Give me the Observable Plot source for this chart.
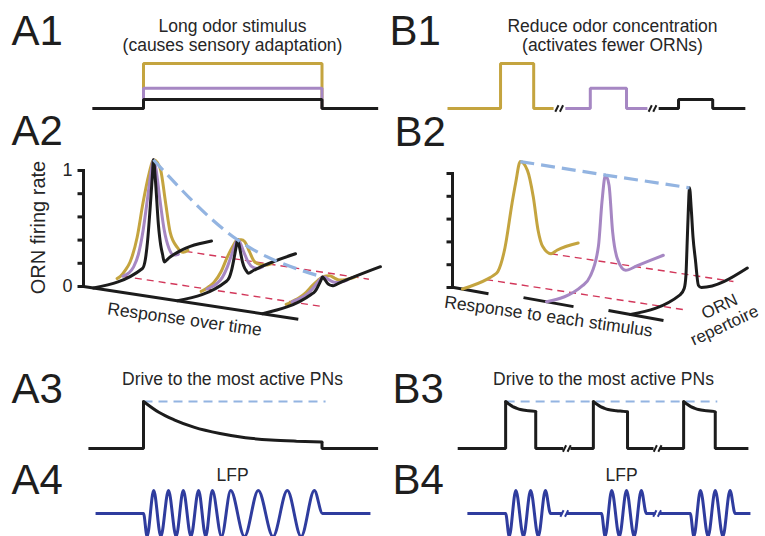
<!DOCTYPE html>
<html>
<head>
<meta charset="utf-8">
<script src="https://cdn.jsdelivr.net/npm/d3@7"></script>
<script src="https://cdn.jsdelivr.net/npm/@observablehq/plot@0.6"></script>
<style>
html,body{margin:0;padding:0;background:#fff;}
#chart svg{display:block;}
</style>
</head>
<body>
<div id="chart"></div>
<script>
// ================= DATA =================
const panelLabels = ["A1", "A2", "A3", "A4", "B1", "B2", "B3", "B4"];
const titleA1 = "Long odor stimulus\n(causes sensory adaptation)";
const titleB1 = "Reduce odor concentration\n(activates fewer ORNs)";
const titleDrive = "Drive to the most active PNs";
const titleLFP = "LFP";
const labelRate = "ORN firing rate";
const labelOverTime = "Response over time";
const labelEachStim = "Response to each stimulus";
const labelRepertoire = ["ORN", "repertoire"];
const rateTicks = [0, 0.2, 0.4, 0.6, 0.8, 1];
const rateTickLabels = [{v: 0, s: "0"}, {v: 1, s: "1"}];

// odor concentrations: high (gold), medium (purple), low (black)
const series = ["high", "medium", "low"];
const concentration = [1, 0.45, 0.2];

// A1: long stimulus (time units)
const aStart = 0, aOn = 1, aOff = 4.5, aEnd = 5.6;

// B1: short pulses, one per concentration
const b1SegStart = [0, 2.31, 4.14];
const b1SegEnd = [2.08, 3.92, 5.84];
const b1On = [1.04, 2.80, 4.53];
const b1Off = [1.69, 3.51, 5.20];
const b1Breaks = [2.19, 4.02];

// A2: ORN response snapshots (early, middle, late) — peak rate of each
const a2PeakRate = [0.9, 0.32, 0.11];
// normalized response shapes along the response axis (t) for each concentration
const a2GoldT = [0.2, 0.23, 0.27, 0.31, 0.37, 0.42, 0.47, 0.508, 0.54, 0.57, 0.61, 0.65, 0.71, 0.76, 0.8];
const a2GoldH = [0, 0.01, 0.05, 0.11, 0.32, 0.63, 0.88, 1, 0.96, 0.87, 0.55, 0.24, 0.07, 0, 0];
const a2PurpleT = [0.25, 0.3, 0.34, 0.38, 0.42, 0.46, 0.49, 0.508, 0.53, 0.56, 0.6, 0.64, 0.68, 0.72];
const a2PurpleH = [0, 0.01, 0.05, 0.15, 0.36, 0.67, 0.91, 1, 0.9, 0.62, 0.28, 0.09, 0.01, 0];
const a2BlackT = [0, 0.415, 0.44, 0.458, 0.48, 0.5, 0.508, 0.525, 0.55, 0.57, 0.585, 0.6, 0.64, 1];
const a2BlackH = [0, 0, 0.08, 0.24, 0.55, 0.87, 1, 0.79, 0.36, 0.15, 0.06, -0.02, 0, 0];

// B2: responses to each stimulus (absolute firing rate)
const b2GoldT = [0, 0.21, 0.26, 0.3, 0.36, 0.42, 0.45, 0.49, 0.55, 0.6, 0.64, 0.68, 0.75, 0.8, 0.98];
const b2GoldH = [0, 0, 0.01, 0.03, 0.21, 0.57, 0.73, 0.9, 0.8, 0.55, 0.25, 0.09, 0, 0.01, 0];
const b2PurpleT = [0, 0.305, 0.37, 0.44, 0.47, 0.5, 0.53, 0.56, 0.6, 0.67, 0.77, 0.99];
const b2PurpleH = [0, 0.015, 0.07, 0.3, 0.67, 0.89, 0.79, 0.38, 0.13, 0, 0, 0];
const b2BlackT = [0, 0.42, 0.455, 0.47, 0.48, 0.49, 0.5, 0.515, 0.53, 0.55, 0.575, 0.6, 0.99];
const b2BlackH = [0, 0, 0.04, 0.15, 0.42, 0.7, 0.89, 0.7, 0.45, 0.25, 0.02, -0.01, 0];

// A3: drive to most active PNs (normalized)
const a3Start = -0.08, a3End = 5.6;
const a3DriveT = [1, 1.3, 1.6, 2, 2.5, 3, 3.5, 4, 4.5];
const a3DriveV = [1, 0.77, 0.61, 0.45, 0.32, 0.23, 0.18, 0.155, 0.14];

// B3: drive for each pulse
const b3SegStart = [0.2, 2.41, 4.16];
const b3SegEnd = [2.27, 4.04, 5.9];
const b3On = [1.14, 2.86, 4.63];
const b3Off = [1.73, 3.53, 5.25];
const b3Breaks = [2.34, 4.12];
const b3DecayDt = [0, 0.07, 0.14, 0.22, 0.29, 0.45, 0.59, 0.7];
const b3DecayV = [1, 0.94, 0.89, 0.855, 0.83, 0.805, 0.79, 0.78];

// A4: LFP extrema (time, normalized value)
const a4Start = 0.06, a4End = 5.45;
const a4ExtT = [1, 1.07, 1.2, 1.34, 1.49, 1.64, 1.78, 1.93, 2.08, 2.22, 2.35, 2.53, 2.71, 2.98, 3.25, 3.54, 3.82, 4.09, 4.35, 4.51];
const a4ExtV = [0, -1, 1, -1, 1, -1, 1, -1, 1, -1, 1, -1, 1, -1, 1, -1, 1, -1, 1, 0];

// B4: LFP bursts
const b4SegStart = [0.39, 2.33, 4.14];
const b4SegEnd = [2.25, 4.08, 5.94];
const b4On = [1.14, 3.02, 4.76];
const b4BurstDt = [0, 0.07, 0.2, 0.35, 0.49, 0.64, 0.78, 0.88];
const b4BurstV = [0, -1, 1, -1, 1, -1, 1, 0];
const b4Breaks = [2.29, 4.11];

// ================= LAYOUT & STYLE =================
const W = 765, H = 536;
const C = {high: "#c4a43f", medium: "#a687c3", low: "#1c1c1c", lfp: "#2f3c9e",
           peak: "#93b4e1", ref: "#d2375a", text: "#262626"};
const FONT = "'Liberation Sans', Arial, Helvetica, sans-serif";
const L = {
  pxPerT: 51, aX0: 92, bX0: 447,
  stimBase: 108, concPx: 45,
  driveBase: 448, drivePx: 47, a3PeakEnd: 4.57, b3PeakEnd: 5.29,
  lfpBase: 513, lfpPx: 23,
  brkGap: 2.3, brkW: 1.6, brkH: 3.2,
  tickLen: 6,
  labelPos: [[11, 44], [11, 144], [11, 402], [11, 493], [389, 44], [394, 145], [392, 402], [392, 493]],
  a2: {corner: [83, 286], axisH: 116, offsets: [10, 94, 179], baseSlope: 0.152, depth: [118, -47], hPx: 116,
       baseExt: 0.2, refT: [0.25, 0.78], refExt: [0.19, 0.085]},
  b2: {corner: [452, 287], axisH: 114, offsets: [10, 94, 178], baseSlope: 0.152, depth: [118, -47], hPx: 116,
       stubs: [[-10, 26], [-23, 27], [-22, 33]], stubSlope: 0.18, refT: [0.2, 0.75], refExt: [0.2, 0.086]}
};

// ================= BUILD =================
const marks = [];
const xA = t => L.aX0 + t * L.pxPerT;
const xB = t => L.bX0 + t * L.pxPerT;
const yConc = c => L.stimBase - c * L.concPx;
const yDrive = v => L.driveBase - v * L.drivePx;
const yLfp = v => L.lfpBase - v * L.lfpPx;
const pairs = (arr, fx, fy) => arr.map(([t, v]) => ({x: fx(t), y: fy(v)}));

function line(data, stroke, extra = {}) {
  marks.push(Plot.line(data, {x: "x", y: "y", stroke, strokeWidth: 3,
    strokeLinejoin: "miter", strokeLinecap: "butt", ...extra}));
}
function breaks(ts, xf, y0, stroke) {
  const segs = [];
  ts.forEach(t => {
    const cx = xf(t);
    [-L.brkGap, L.brkGap].forEach(d => segs.push({x1: cx + d - L.brkW, y1: y0 + L.brkH, x2: cx + d + L.brkW, y2: y0 - L.brkH}));
  });
  marks.push(Plot.link(segs, {x1: "x1", y1: "y1", x2: "x2", y2: "y2", stroke, strokeWidth: 2}));
}
function txt(data, opts) {
  marks.push(Plot.text(data, {x: "x", y: "y", text: "s", fontFamily: FONT, fill: C.text, fontSize: 17.5, ...opts}));
}
function proj(P, k, t, h) {
  const ox = P.corner[0] + P.offsets[k], oy = P.corner[1] + P.offsets[k] * P.baseSlope;
  return {x: ox + t * P.depth[0], y: oy + t * P.depth[1] - h * P.hPx};
}

// ---- A1 ----
series.forEach((s, i) => {
  const c = concentration[i];
  line(pairs([[aStart, 0], [aOn, 0], [aOn, c], [aOff, c], [aOff, 0], [aEnd, 0]], xA, yConc), C[s]);
});
// ---- B1 ----
series.forEach((s, i) => {
  const c = concentration[i];
  line(pairs([[b1SegStart[i], 0], [b1On[i], 0], [b1On[i], c], [b1Off[i], c], [b1Off[i], 0], [b1SegEnd[i], 0]], xB, yConc), C[s]);
});
breaks(b1Breaks, xB, L.stimBase, C.low);

// ---- A3 ----
line([{x: xA(a3DriveT[0]), y: yDrive(1)}, {x: xA(L.a3PeakEnd), y: yDrive(1)}], C.peak, {strokeWidth: 2, strokeDasharray: "9,6"});
const a3Last = a3DriveT.length - 1;
line(pairs([[a3Start, 0], [a3DriveT[0], 0], [a3DriveT[0], a3DriveV[0]]], xA, yDrive), C.low);
line(a3DriveT.map((t, i) => ({x: xA(t), y: yDrive(a3DriveV[i])})), C.low, {curve: "monotone-x", strokeLinecap: "round"});
line(pairs([[a3DriveT[a3Last], a3DriveV[a3Last]], [a3DriveT[a3Last], 0], [a3End, 0]], xA, yDrive), C.low);

// ---- B3 ----
line([{x: xB(b3On[0]), y: yDrive(1)}, {x: xB(L.b3PeakEnd), y: yDrive(1)}], C.peak, {strokeWidth: 2, strokeDasharray: "9,6"});
b3On.forEach((on, i) => {
  const off = b3Off[i], dur = off - on;
  const dts = b3DecayDt.filter(d => d < dur - 0.01);
  const vs = b3DecayV.slice(0, dts.length);
  const endV = b3DecayV[Math.min(dts.length, b3DecayV.length - 1)];
  line(pairs([[b3SegStart[i], 0], [on, 0], [on, 1]], xB, yDrive), C.low);
  line(dts.map((d, j) => ({x: xB(on + d), y: yDrive(vs[j])})).concat([{x: xB(off), y: yDrive(endV)}]), C.low, {curve: "monotone-x", strokeLinecap: "round"});
  line(pairs([[off, endV], [off, 0], [b3SegEnd[i], 0]], xB, yDrive), C.low);
});
breaks(b3Breaks, xB, L.driveBase, C.low);

// ---- A4 ----
line([{x: xA(a4Start), y: yLfp(0)}].concat(a4ExtT.map((t, i) => ({x: xA(t), y: yLfp(a4ExtV[i])})), [{x: xA(a4End), y: yLfp(0)}]),
  C.lfp, {curve: "monotone-x", strokeLinejoin: "round"});
// ---- B4 ----
b4On.forEach((on, i) => {
  const p = [{x: xB(b4SegStart[i]), y: yLfp(0)}]
    .concat(b4BurstDt.map((d, j) => ({x: xB(on + d), y: yLfp(b4BurstV[j])})), [{x: xB(b4SegEnd[i]), y: yLfp(0)}]);
  line(p, C.lfp, {curve: "monotone-x", strokeLinejoin: "round"});
});
breaks(b4Breaks, xB, L.lfpBase, C.lfp);

// ---- A2 / B2 shared helpers ----
function verticalAxis(P) {
  line([{x: P.corner[0], y: P.corner[1]}, {x: P.corner[0], y: P.corner[1] - P.axisH}], C.low, {strokeLinecap: "square"});
  marks.push(Plot.link(rateTicks, {x1: P.corner[0] - L.tickLen, x2: P.corner[0],
    y1: v => P.corner[1] - v * P.axisH, y2: v => P.corner[1] - v * P.axisH, stroke: C.low, strokeWidth: 3}));
}
function refLines(P) {
  P.refT.forEach((rt, j) => {
    const p1 = proj(P, 0, rt, 0), p3 = proj(P, 2, rt, 0), e = P.refExt[j];
    line([p1, {x: p3.x + e * (p3.x - p1.x), y: p3.y + e * (p3.y - p1.y)}], C.ref, {strokeWidth: 1.4, strokeDasharray: "7,5"});
  });
}
const curveOpts = {curve: "monotone-x", strokeLinecap: "round", strokeLinejoin: "round"};

// ---- A2 ----
const PA = L.a2;
verticalAxis(PA);
{
  const o3 = proj(PA, 2, 0, 0);
  line([{x: PA.corner[0], y: PA.corner[1]}, {x: o3.x + PA.baseExt * (o3.x - PA.corner[0]), y: o3.y + PA.baseExt * (o3.y - PA.corner[1])}], C.low);
}
refLines(PA);
a2PeakRate.forEach((r, k) => {
  line(a2GoldT.map((t, i) => proj(PA, k, t, a2GoldH[i] * r)), C.high, curveOpts);
  line(a2PurpleT.map((t, i) => proj(PA, k, t, a2PurpleH[i] * r)), C.medium, curveOpts);
  line(a2BlackT.map((t, i) => proj(PA, k, t, a2BlackH[i] * r)), C.low, curveOpts);
});
{
  const pi = a2BlackH.indexOf(Math.max(...a2BlackH));
  line(a2PeakRate.map((r, k) => proj(PA, k, a2BlackT[pi], r)), C.peak, {curve: "natural", strokeWidth: 3.2, strokeDasharray: "14,7"});
}

// ---- B2 ----
const PB = L.b2;
verticalAxis(PB);
PB.stubs.forEach(([a, b], k) => {
  const o = proj(PB, k, 0, 0);
  line([{x: o.x + a, y: o.y + a * PB.stubSlope}, {x: o.x + b, y: o.y + b * PB.stubSlope}], C.low);
});
refLines(PB);
const b2Shapes = [[b2GoldT, b2GoldH], [b2PurpleT, b2PurpleH], [b2BlackT, b2BlackH]];
b2Shapes.forEach(([ts, hs], k) => line(ts.map((t, i) => proj(PB, k, t, hs[i])), C[series[k]], curveOpts));
line(b2Shapes.map(([ts, hs], k) => { const i = hs.indexOf(Math.max(...hs)); return proj(PB, k, ts[i], hs[i]); }),
  C.peak, {strokeWidth: 3.2, strokeDasharray: "14,7"});

// ---- Text ----
txt(panelLabels.map((s, i) => ({s, x: L.labelPos[i][0], y: L.labelPos[i][1]})), {fontSize: 42, textAnchor: "start", lineAnchor: "bottom", fill: "#1e1e1e"});
txt([{s: titleA1, x: 232, y: 50}, {s: titleB1, x: 612, y: 50}], {lineAnchor: "bottom", lineHeight: 1.05});
txt([{s: titleDrive, x: 232, y: 384}, {s: titleDrive, x: 603, y: 384}, {s: titleLFP, x: 232, y: 480}, {s: titleLFP, x: 621, y: 480}], {lineAnchor: "bottom"});
txt(rateTickLabels.map(d => ({s: d.s, x: PA.corner[0] - 11, y: PA.corner[1] - d.v * PA.axisH})), {textAnchor: "end", lineAnchor: "middle", fontSize: 18});
txt([{s: labelRate, x: 38, y: 227}], {rotate: -90, fontSize: 20});
txt([{s: labelOverTime, x: 184, y: 319}], {rotate: 8});
txt([{s: labelEachStim, x: 548, y: 316}], {rotate: 8});
txt([{s: labelRepertoire[0], x: 719, y: 306}, {s: labelRepertoire[1], x: 724, y: 325}], {rotate: -25, fontSize: 17});

const chart = Plot.plot({
  width: W, height: H, margin: 0,
  x: {type: "linear", domain: [0, W], range: [0, W], axis: null},
  y: {type: "linear", domain: [0, H], range: [0, H], axis: null},
  style: {background: "#fff", fontFamily: FONT},
  marks
});
document.getElementById("chart").appendChild(chart);
</script>
</body>
</html>
